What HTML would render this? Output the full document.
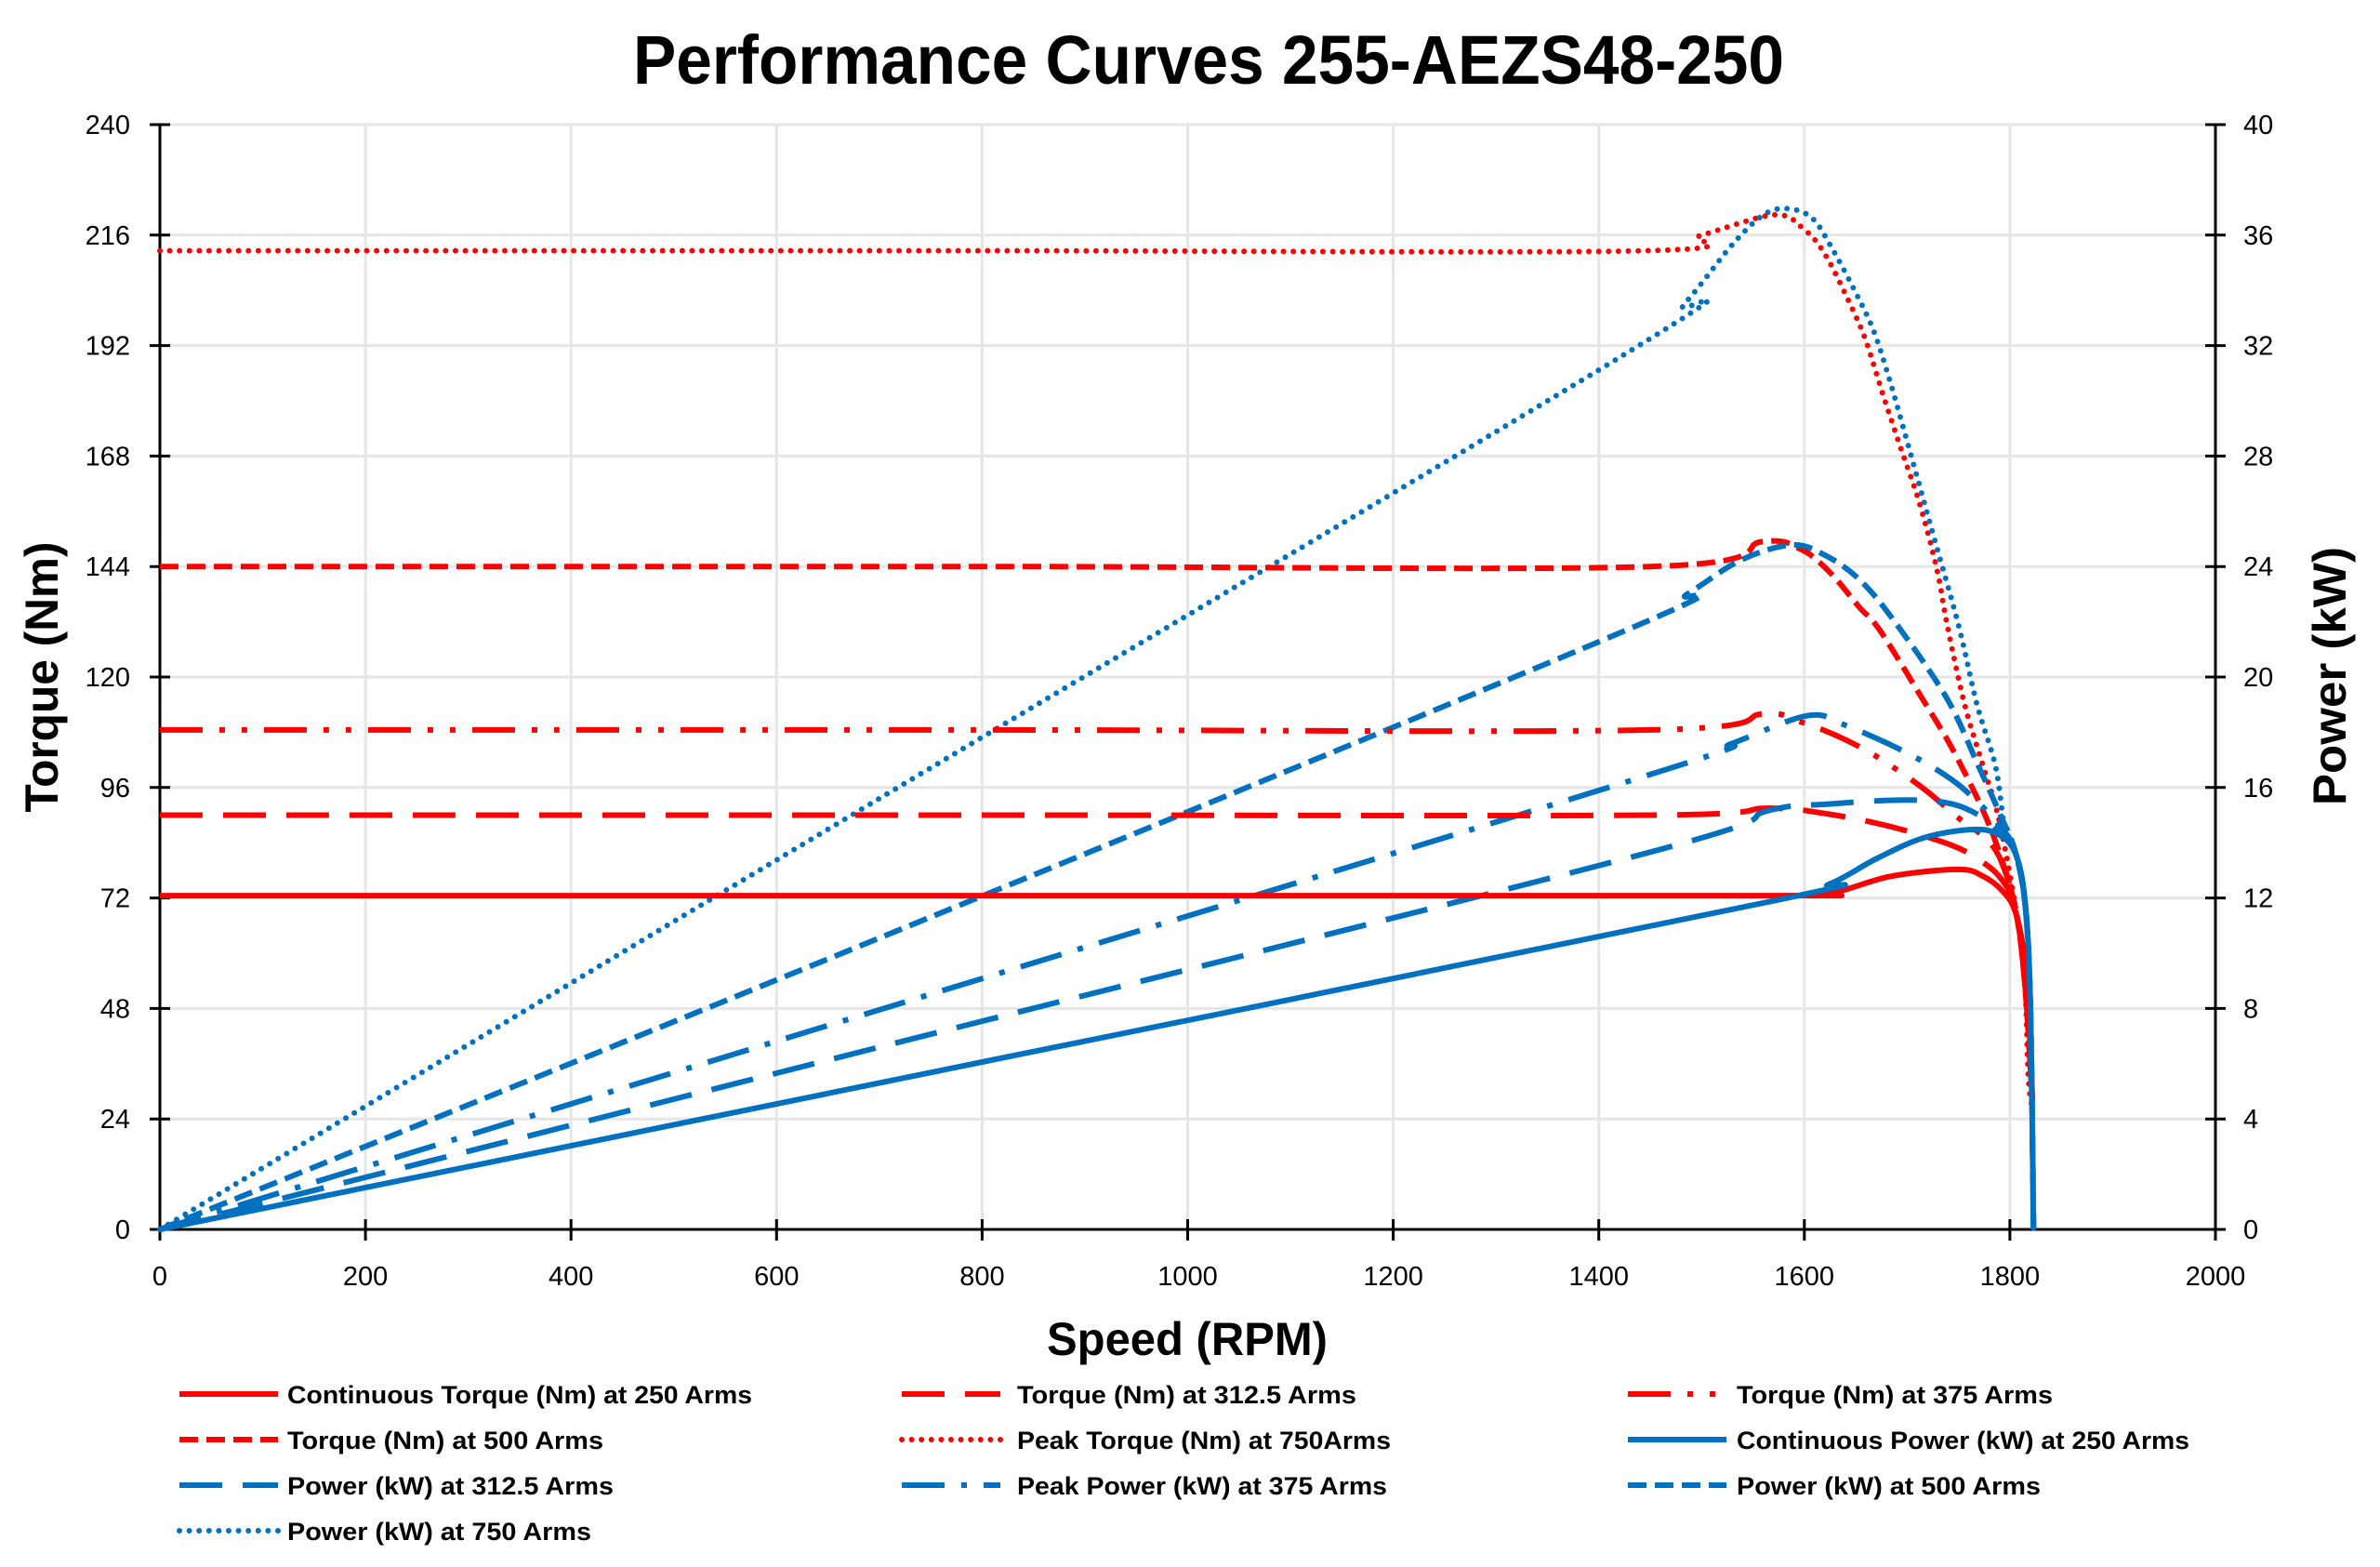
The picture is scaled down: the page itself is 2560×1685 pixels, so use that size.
<!DOCTYPE html>
<html><head><meta charset="utf-8"><style>
html,body{margin:0;padding:0;background:#fff;}
svg{display:block;font-family:"Liberation Sans",sans-serif;}
</style></head><body>
<svg id="chart" width="2560" height="1685" viewBox="0 0 2560 1685" xmlns="http://www.w3.org/2000/svg">
<rect x="0" y="0" width="2560" height="1685" fill="#fff"/>
<text x="1300" y="90" text-anchor="middle" font-size="74" font-weight="bold" textLength="1238" lengthAdjust="spacingAndGlyphs">Performance Curves 255-AEZS48-250</text>
<g id="grid"></g>
<g id="axes"></g>
<g id="series"></g>
<text x="1277" y="1457" text-anchor="middle" font-size="50" font-weight="bold" textLength="302" lengthAdjust="spacingAndGlyphs">Speed (RPM)</text>
<text transform="translate(62,728) rotate(-90)" text-anchor="middle" font-size="50" font-weight="bold" textLength="291" lengthAdjust="spacingAndGlyphs">Torque (Nm)</text>
<text transform="translate(2523,727) rotate(-90)" text-anchor="middle" font-size="50" font-weight="bold" textLength="278" lengthAdjust="spacingAndGlyphs">Power (kW)</text>
<g id="legend"></g>
</svg>
<script>
const xTicks = [0,200,400,600,800,1000,1200,1400,1600,1800,2000];
const yTicksLeft = [0,24,48,72,96,120,144,168,192,216,240];
const yTicksRight = [0,4,8,12,16,20,24,28,32,36,40];

const rpmT250 = [0,800,1560,1624,1684,1750,1774,1792,1805,1814,1818,1822];
const torqueT250 = [72.5,72.5,72.5,73,76.7,78.2,76.7,73.7,69.2,59.5,48.3,28];
const rpmT312 = [0,800,1450,1564,1624,1684,1744,1774,1792,1805,1814,1822];
const torqueT312 = [90,90,90,91.5,90.2,87.5,83.4,79.7,76,70,55,28];
const rpmT375 = [0,800,1450,1560,1594,1630,1669,1714,1750,1780,1795,1807,1815,1822];
const torqueT375 = [108.5,108.5,108.5,112,110.4,107.4,102.9,96.1,89.4,84.2,78,68,52,28];
const rpmT500 = [0,800,1451,1559,1597,1625,1653,1674,1714,1744,1774,1792,1805,1814,1822];
const torqueT500 = [144,144,144,149.4,147.7,142.7,135.3,130,115.6,104.4,90.9,80.4,70,55,28];
const rpmT750 = [0,800,1443,1500,1571,1600,1621,1646,1660,1677,1694,1712,1729,1739,1756,1774,1789,1805,1814,1818,1822];
const torqueT750 = [212.6,212.6,212.6,216,220.4,217.2,211.5,200.3,193,181,169.6,157.8,143.4,131.3,114,100.6,89.4,70.7,55.8,33,26];

const rpmP250 = [0,800,1564,1624,1669,1714,1759,1786,1805,1815,1820,1823];
const powerP250 = [0,6.06,11.85,12.5,13.4,14.15,14.47,14.35,13.65,11.8,8.05,0];
const rpmP312 = [0,700,1450,1564,1624,1699,1744,1774,1792,1805,1815,1820,1823];
const powerP312 = [0,6.6,13.66,15.15,15.4,15.55,15.4,14.9,14.3,13.7,11.7,8,0];
const rpmP375 = [0,700,1450,1530,1603,1639,1699,1744,1774,1792,1805,1815,1820,1823];
const powerP375 = [0,7.95,16.47,17.6,18.6,18.27,17.27,16.27,15.28,14.53,13.7,11.7,8,0];
const rpmP500 = [0,700,1427,1486,1538,1587,1618,1653,1688,1738,1768,1792,1805,1815,1820,1823];
const powerP500 = [0,10.55,21.7,23,24.23,24.78,24.45,23.55,22,19.27,16.9,14.9,13.7,11.7,8,0];
const rpmP750 = [0,700,1439,1483,1531,1562,1586,1608,1625,1647,1667,1684,1705,1726,1750,1768,1786,1795,1805,1815,1820,1823];
const powerP750 = [0,15.6,32,33.5,35.7,36.77,36.95,36.6,35.65,34.13,32.57,30.62,27.87,25.07,21.88,19,16.77,14.53,13.7,11.7,8,0];

const seriesLabels = ["Continuous Torque (Nm) at 250 Arms","Torque (Nm) at 312.5 Arms","Torque (Nm) at 375 Arms","Torque (Nm) at 500 Arms","Peak Torque (Nm) at 750Arms","Continuous Power (kW) at 250 Arms","Power (kW) at 312.5 Arms","Peak Power (kW) at 375 Arms","Power (kW) at 500 Arms","Power (kW) at 750 Arms"];

const NS = "http://www.w3.org/2000/svg";
const L = 172, R = 2383, T = 134, B = 1322;
function xS(v){ return L + (v/2000)*(R-L); }
function yL(v){ return B - (v/240)*(B-T); }
function yR(v){ return B - (v/40)*(B-T); }
function mk(tag, attrs, parent){ const e=document.createElementNS(NS,tag); for(const k in attrs) e.setAttribute(k,attrs[k]); parent.appendChild(e); return e; }

const grid = document.getElementById('grid');
const axes = document.getElementById('axes');
xTicks.forEach(v=>{
  if(v>0 && v<2000){
    const g = mk('line',{x1:xS(v),x2:xS(v),y1:T,y2:B,stroke:'#e6e6e6','stroke-width':3},grid);
    
    
  }
  const t = mk('line',{x1:xS(v),x2:xS(v),y1:B-11,y2:B+12,stroke:'#000','stroke-width':3},axes);
  
  
  const lb = mk('text',{x:xS(v),y:1382,'text-anchor':'middle','font-size':29},axes);
  lb.textContent = v;
  
  
});
yTicksLeft.forEach((v,i)=>{
  if(v>0){
    const g = mk('line',{x1:L,x2:R,y1:yL(v),y2:yL(v),stroke:'#e6e6e6','stroke-width':3},grid);
    
    
  }
  const t = mk('line',{x1:L-11,x2:L+11,y1:yL(v),y2:yL(v),stroke:'#000','stroke-width':3},axes);
  
  
  const lb = mk('text',{x:140,y:yL(v)+10,'text-anchor':'end','font-size':29},axes);
  lb.textContent = v;
  
  
});
yTicksRight.forEach(v=>{
  const t = mk('line',{x1:R-11,x2:R+11,y1:yR(v),y2:yR(v),stroke:'#000','stroke-width':3},axes);
  
  
  const lb = mk('text',{x:2413,y:yR(v)+10,'text-anchor':'start','font-size':29},axes);
  lb.textContent = v;
  
  
});
const ax1 = mk('line',{x1:L,x2:L,y1:T,y2:B,stroke:'#000','stroke-width':3},axes);


const ax2 = mk('line',{x1:R,x2:R,y1:T,y2:B,stroke:'#000','stroke-width':3},axes);


const ax3 = mk('line',{x1:L,x2:R+11,y1:B,y2:B,stroke:'#000','stroke-width':3},axes);



function crPath(xs, ys){
  const p = xs.map((x,i)=>[x,ys[i]]);
  let d = 'M'+p[0][0].toFixed(1)+','+p[0][1].toFixed(1);
  for(let i=0;i<p.length-1;i++){
    const p0=p[i-1]||p[i], p1=p[i], p2=p[i+1], p3=p[i+2]||p[i+1];
    const t=1/6;
    const c1=[p1[0]+(p2[0]-p0[0])*t, p1[1]+(p2[1]-p0[1])*t];
    const c2=[p2[0]-(p3[0]-p1[0])*t, p2[1]-(p3[1]-p1[1])*t];
    d+=' C'+c1[0].toFixed(1)+','+c1[1].toFixed(1)+' '+c2[0].toFixed(1)+','+c2[1].toFixed(1)+' '+p2[0].toFixed(1)+','+p2[1].toFixed(1);
  }
  return d;
}
const RED='#ff0000', BLUE='#0070c0';
const styles = [
  {c:RED, dash:null, cap:'butt', w:6},
  {c:RED, dash:'46 22', cap:'butt', w:6},
  {c:RED, dash:'46 18 6 18 6 18', cap:'butt', w:6},
  {c:RED, dash:'20 9', cap:'butt', w:6},
  {c:RED, dash:'0 10.6', cap:'round', w:6},
  {c:BLUE, dash:null, cap:'butt', w:6},
  {c:BLUE, dash:'46 22', cap:'butt', w:6},
  {c:BLUE, dash:'46 18 6 18', cap:'butt', w:6},
  {c:BLUE, dash:'20 9', cap:'butt', w:6},
  {c:BLUE, dash:'0 10.6', cap:'round', w:6}
];
const seriesData = [
  [rpmT250,torqueT250,'L'],[rpmT312,torqueT312,'L'],[rpmT375,torqueT375,'L'],[rpmT500,torqueT500,'L'],[rpmT750,torqueT750,'L'],
  [rpmP250,powerP250,'R'],[rpmP312,powerP312,'R'],[rpmP375,powerP375,'R'],[rpmP500,powerP500,'R'],[rpmP750,powerP750,'R']
];
const seriesNames = ['torque-250-arms','torque-312-arms','torque-375-arms','torque-500-arms','torque-750-arms','power-250-arms','power-312-arms','power-375-arms','power-500-arms','power-750-arms'];
const sg = document.getElementById('series');
const drawOrder = [4,9,3,8,2,7,1,6,0,5];
drawOrder.forEach(i=>{
  const [xs,ys,ax] = seriesData[i];
  const st = styles[i];
  const px = xs.map(xS), py = ys.map(ax==='L'?yL:yR);
  const a = {d:crPath(px,py),fill:'none',stroke:st.c,'stroke-width':st.w,'stroke-linecap':st.cap,'stroke-linejoin':'round'};
  if(st.dash) a['stroke-dasharray']=st.dash;
  const path = mk('path',a,sg);
  
  
});

const lg = document.getElementById('legend');
const colLine = [193,970,1751];
const colText = [309,1094,1868];
const rowY = [1499,1548,1597,1646];
const textLens = [500,365,340,340,402,487,351,398,327,327];
seriesLabels.forEach((lab,i)=>{
  const r = Math.floor(i/3), c = i%3;
  const st = styles[i];
  const y = rowY[r];
  const a = {x1:colLine[c],x2:colLine[c]+106,y1:y,y2:y,stroke:st.c,'stroke-width':st.w,'stroke-linecap':st.cap};
  if(st.dash) a['stroke-dasharray']=st.dash;
  const ln = mk('line',a,lg);
  
  
  const tx = mk('text',{x:colText[c],y:y+10,'font-size':27,'font-weight':'bold',textLength:textLens[i],lengthAdjust:'spacingAndGlyphs'},lg);
  tx.textContent = lab;
  
  
});
</script>
</body></html>
